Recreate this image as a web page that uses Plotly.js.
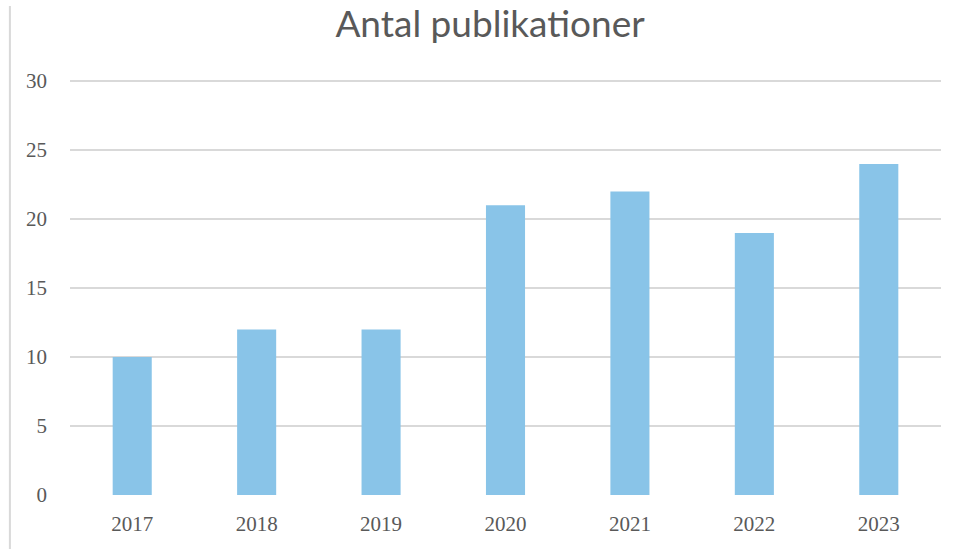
<!DOCTYPE html>
<html>
<head>
<meta charset="utf-8">
<script src="https://cdn.plot.ly/plotly-3.0.1.min.js"></script>
<style>html,body{margin:0;padding:0;background:#fff;}#chart{width:959px;height:549px;}</style>
</head>
<body>
<div id="chart"></div>
<script>
const years = ["2017", "2018", "2019", "2020", "2021", "2022", "2023"];
const publications = [10, 12, 12, 21, 22, 19, 24];
const yTicks = [0, 5, 10, 15, 20, 25, 30];
const chartTitle = "Antal publikationer";

Plotly.newPlot("chart", [{
  type: "bar",
  x: years,
  y: publications,
  marker: {color: "#89C4E8"},
  hoverinfo: "x+y"
}], {
  width: 959,
  height: 549,
  margin: {l: 70, r: 18, t: 77, b: 54},
  paper_bgcolor: "#ffffff",
  plot_bgcolor: "#ffffff",
  bargap: 0.686,
  title: {
    text: chartTitle,
    font: {family: "Lato, 'Open Sans', sans-serif", size: 37, color: "#595959"},
    x: 0.511, xanchor: "center",
    y: 0.957, yanchor: "middle"
  },
  xaxis: {
    type: "category",
    showgrid: false,
    showline: false,
    zeroline: false,
    ticks: "",
    ticklabelstandoff: 14,
    tickfont: {family: "'Liberation Serif', serif", size: 21, color: "#595959"}
  },
  yaxis: {
    range: [0, 30.3],
    tickvals: yTicks,
    ticktext: yTicks.map(String),
    showgrid: true,
    gridcolor: "#d9d9d9",
    gridwidth: 1.5,
    zeroline: false,
    showline: false,
    ticks: "",
    ticklabelstandoff: 22,
    tickfont: {family: "'Liberation Serif', serif", size: 21, color: "#595959"}
  },
  shapes: [{
    type: "line", xref: "paper", yref: "paper",
    x0: -0.069, x1: -0.069, y0: 1.17, y1: -0.14,
    line: {color: "#d9d9d9", width: 2}
  }],
  showlegend: false
}, {displayModeBar: false});
</script>
</body>
</html>
